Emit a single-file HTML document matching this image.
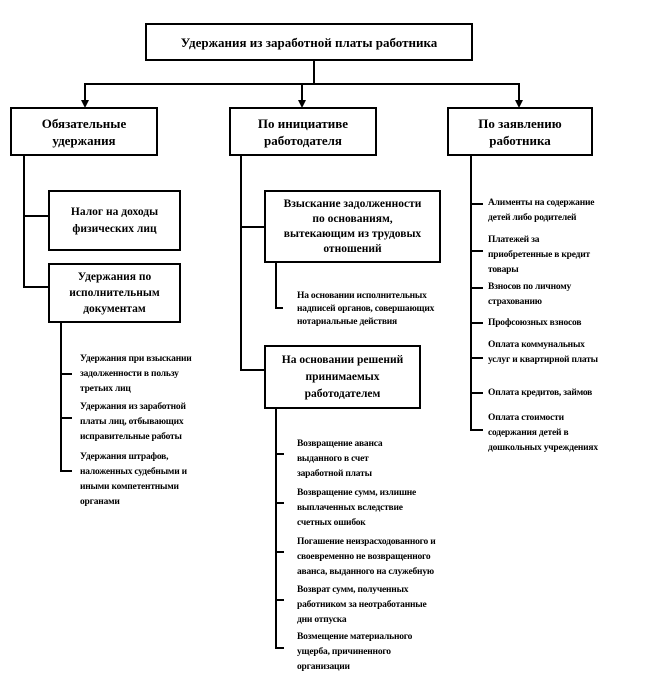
<!DOCTYPE html>
<html><head><meta charset="utf-8"><style>
body{margin:0;width:648px;height:696px;background:#fff;position:relative;font-family:"Liberation Serif",serif;font-weight:bold;color:#000;overflow:hidden}
.b{position:absolute;border:2px solid #000;box-sizing:border-box;display:flex;align-items:center;justify-content:center;text-align:center;font-size:13px;line-height:17px}
.t{position:absolute;font-size:9.5px;line-height:15px;letter-spacing:-0.2px}
svg{position:absolute;left:0;top:0}
</style></head><body>
<svg width="648" height="696">
<g stroke="#000" stroke-width="2" fill="none">
<line x1="314" y1="60" x2="314" y2="84"/>
<line x1="84" y1="84" x2="520" y2="84"/>
<line x1="85" y1="84" x2="85" y2="101"/>
<line x1="302" y1="84" x2="302" y2="101"/>
<line x1="519" y1="84" x2="519" y2="101"/>
<line x1="24" y1="155" x2="24" y2="288"/>
<line x1="24" y1="216" x2="48" y2="216"/>
<line x1="24" y1="287" x2="48" y2="287"/>
<line x1="61" y1="322" x2="61" y2="472"/>
<line x1="61" y1="374" x2="72" y2="374"/>
<line x1="61" y1="418" x2="72" y2="418"/>
<line x1="61" y1="471" x2="72" y2="471"/>
<line x1="241" y1="155" x2="241" y2="371"/>
<line x1="241" y1="227" x2="264" y2="227"/>
<line x1="241" y1="370" x2="264" y2="370"/>
<line x1="276" y1="262" x2="276" y2="309"/>
<line x1="276" y1="308" x2="283" y2="308"/>
<line x1="276" y1="408" x2="276" y2="649"/>
<line x1="276" y1="454" x2="284" y2="454"/>
<line x1="276" y1="503" x2="284" y2="503"/>
<line x1="276" y1="552" x2="284" y2="552"/>
<line x1="276" y1="600" x2="284" y2="600"/>
<line x1="276" y1="648" x2="284" y2="648"/>
<line x1="471" y1="155" x2="471" y2="431"/>
<line x1="471" y1="204" x2="483" y2="204"/>
<line x1="471" y1="251" x2="483" y2="251"/>
<line x1="471" y1="288" x2="483" y2="288"/>
<line x1="471" y1="323" x2="483" y2="323"/>
<line x1="471" y1="358" x2="483" y2="358"/>
<line x1="471" y1="393" x2="483" y2="393"/>
<line x1="471" y1="430" x2="483" y2="430"/>
</g>
<g fill="#000">
<polygon points="81,100 89,100 85,108"/>
<polygon points="298,100 306,100 302,108"/>
<polygon points="515,100 523,100 519,108"/>
</g>
</svg>
<div class="b" style="left:145px;top:23px;width:328px;height:38px">Удержания из заработной платы работника</div>
<div class="b" style="left:10px;top:107px;width:148px;height:49px">Обязательные<br>удержания</div>
<div class="b" style="left:229px;top:107px;width:148px;height:49px">По инициативе<br>работодателя</div>
<div class="b" style="left:447px;top:107px;width:146px;height:49px">По заявлению<br>работника</div>
<div class="b" style="left:48px;top:190px;width:133px;height:61px;font-size:11.5px">Налог на доходы<br>физических лиц</div>
<div class="b" style="left:48px;top:263px;width:133px;height:60px;font-size:11.5px;line-height:16px">Удержания по<br>исполнительным<br>документам</div>
<div class="b" style="left:264px;top:190px;width:177px;height:73px;font-size:11.5px;line-height:15px">Взыскание задолженности<br>по основаниям,<br>вытекающим из трудовых<br>отношений</div>
<div class="b" style="left:264px;top:345px;width:157px;height:64px;font-size:11.5px;line-height:17px">На основании решений<br>принимаемых<br>работодателем</div>
<div class="t" style="left:80px;top:352px">Удержания при взыскании<br>задолженности в пользу<br>третьих лиц</div>
<div class="t" style="left:80px;top:400px">Удержания из заработной<br>платы лиц, отбывающих<br>исправительные работы</div>
<div class="t" style="left:80px;top:450px">Удержания штрафов,<br>наложенных судебными и<br>иными компетентными<br>органами</div>
<div class="t" style="left:297px;top:290px;line-height:13px">На основании исполнительных<br>надписей органов, совершающих<br>нотариальные действия</div>
<div class="t" style="left:297px;top:437px">Возвращение аванса<br>выданного в счет<br>заработной платы</div>
<div class="t" style="left:297px;top:486px">Возвращение сумм, излишне<br>выплаченных вследствие<br>счетных ошибок</div>
<div class="t" style="left:297px;top:535px">Погашение неизрасходованного и<br>своевременно не возвращенного<br>аванса, выданного на служебную</div>
<div class="t" style="left:297px;top:583px">Возврат сумм, полученных<br>работником за неотработанные<br>дни отпуска</div>
<div class="t" style="left:297px;top:630px">Возмещение материального<br>ущерба, причиненного<br>организации</div>
<div class="t" style="left:488px;top:196px">Алименты на содержание<br>детей либо родителей</div>
<div class="t" style="left:488px;top:233px">Платежей за<br>приобретенные в кредит<br>товары</div>
<div class="t" style="left:488px;top:280px">Взносов по личному<br>страхованию</div>
<div class="t" style="left:488px;top:316px">Профсоюзных взносов</div>
<div class="t" style="left:488px;top:338px">Оплата коммунальных<br>услуг и квартирной платы</div>
<div class="t" style="left:488px;top:386px">Оплата кредитов, займов</div>
<div class="t" style="left:488px;top:411px">Оплата стоимости<br>содержания детей в<br>дошкольных учреждениях</div>
</body></html>
